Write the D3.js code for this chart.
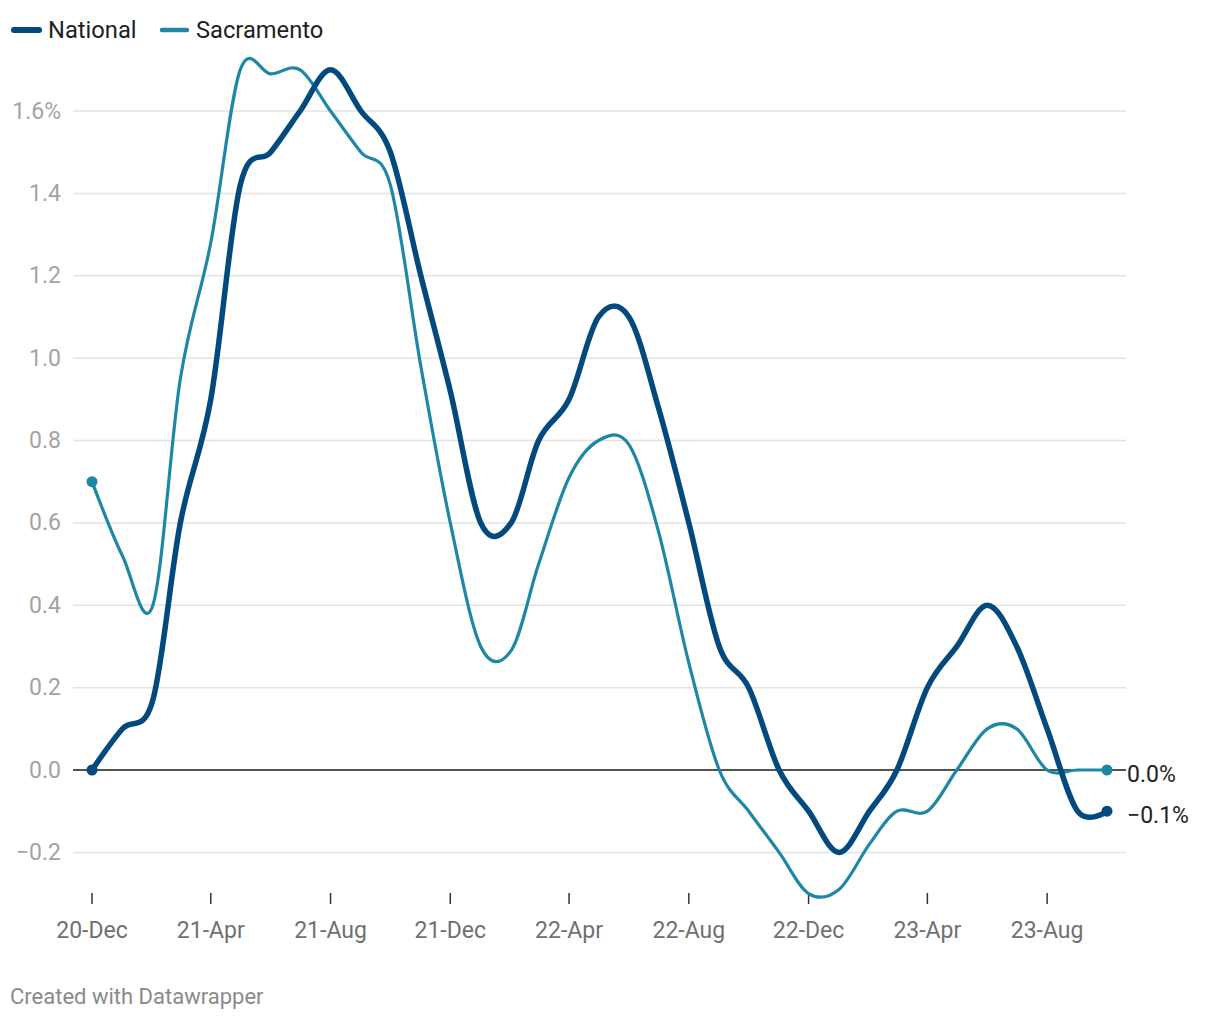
<!DOCTYPE html>
<html><head><meta charset="utf-8">
<script src="https://cdn.jsdelivr.net/npm/d3@7"></script>
<style>
html,body{margin:0;padding:0;background:#fff;}
svg{display:block;font-family:Roboto,"Noto Sans",sans-serif;}
</style></head>
<body>
<svg id="chart" width="1220" height="1020"></svg>
<script>
// ---- data ----
const months = ["2020-12","2021-01","2021-02","2021-03","2021-04","2021-05","2021-06","2021-07","2021-08","2021-09","2021-10","2021-11","2021-12",
"2022-01","2022-02","2022-03","2022-04","2022-05","2022-06","2022-07","2022-08","2022-09","2022-10","2022-11","2022-12",
"2023-01","2023-02","2023-03","2023-04","2023-05","2023-06","2023-07","2023-08","2023-09","2023-10"];
const national = [0.00,0.10,0.17,0.60,0.90,1.42,1.50,1.60,1.70,1.60,1.50,1.20,0.92,
0.60,0.60,0.80,0.90,1.10,1.10,0.88,0.60,0.30,0.20,0.00,-0.10,
-0.20,-0.10,0.00,0.20,0.30,0.40,0.30,0.10,-0.10,-0.10];
const sacramento = [0.70,0.52,0.40,0.95,1.28,1.70,1.69,1.70,1.60,1.50,1.42,0.98,0.60,
0.30,0.29,0.50,0.71,0.80,0.79,0.58,0.26,0.00,-0.10,-0.20,-0.30,
-0.29,-0.18,-0.10,-0.10,0.00,0.10,0.10,0.00,0.00,0.00];
const seriesNames = ["National","Sacramento"];
const seriesColors = ["#024a7e","#1f87a6"];
const endLabels = ["\u22120.1%","0.0%"];
const yTicks = [-0.2,0,0.2,0.4,0.6,0.8,1.0,1.2,1.4,1.6];
const xTickMonths = ["2020-12","2021-04","2021-08","2021-12","2022-04","2022-08","2022-12","2023-04","2023-08"];
const xTickLabels = ["20-Dec","21-Apr","21-Aug","21-Dec","22-Apr","22-Aug","22-Dec","23-Apr","23-Aug"];

// ---- setup ----
const parse = d3.utcParse("%Y-%m");
const dates = months.map(parse);
const svg = d3.select("#chart");

const x = d3.scaleUtc().domain([dates[0], dates[dates.length-1]]).range([92,1107]);
const y = d3.scaleLinear().domain([0,1.6]).range([770,111]);

// gridlines
const grid = svg.append("g");
yTicks.forEach(t=>{
  grid.append("line").attr("x1",73).attr("x2",1126)
    .attr("y1",y(t)).attr("y2",y(t))
    .attr("stroke", t===0 ? "#1a1a1a" : "#e3e3e3")
    .attr("stroke-width", t===0 ? 1.6 : 1.5);
});
// y labels
const fmtY = t => {
  let s = Math.abs(t).toFixed(1);
  if (t < 0) s = "\u2212" + s;
  if (t === 1.6) s += "%";
  return s;
};
svg.append("g").selectAll("text").data(yTicks).join("text")
  .attr("x",61).attr("y",d=>y(d)+7.5)
  .attr("text-anchor","end").attr("font-size",23).attr("fill","#a3a3a3")
  .text(fmtY);

// x axis ticks
const xt = svg.append("g");
xTickMonths.forEach((m,i)=>{
  const xx = x(parse(m));
  xt.append("line").attr("x1",xx).attr("x2",xx).attr("y1",893).attr("y2",904)
    .attr("stroke","#333").attr("stroke-width",1.5);
  xt.append("text").attr("x",xx).attr("y",938).attr("text-anchor","middle")
    .attr("font-size",23).attr("fill","#707070").text(xTickLabels[i]);
});

// lines
const line = d3.line().curve(d3.curveCardinal.tension(0))
  .x((d,i)=>x(dates[i])).y(d=>y(d));
const allSeries = [national, sacramento];
const widths = [5.5, 3.2];
[1,0].forEach(k=>{
  svg.append("path").datum(allSeries[k]).attr("d",line)
    .attr("fill","none").attr("stroke",seriesColors[k])
    .attr("stroke-width",widths[k]).attr("stroke-linejoin","round").attr("stroke-linecap","round");
});
// endpoint dots
[1,0].forEach(k=>{
  const s = allSeries[k];
  [0, s.length-1].forEach(i=>{
    svg.append("circle").attr("cx",x(dates[i])).attr("cy",y(s[i])).attr("r",5.5)
      .attr("fill",seriesColors[k]);
  });
});
// end labels
[0,1].forEach(k=>{
  const s = allSeries[k];
  svg.append("text").attr("x",1127).attr("y",y(s[s.length-1])+11.5)
    .attr("font-size",23).attr("fill","#222").text(endLabels[k]);
});

// legend
const legX = [12,160], legTX = [48,196], legW=[6,4.5];
seriesNames.forEach((n,k)=>{
  svg.append("line").attr("x1",legX[k]+2).attr("x2",legX[k]+27).attr("y1",30).attr("y2",30)
    .attr("stroke",seriesColors[k]).attr("stroke-width",legW[k]).attr("stroke-linecap","round");
  svg.append("text").attr("x",legTX[k]).attr("y",38).attr("font-size",23.7).attr("fill","#1e1e1e").text(n);
});

// footer
svg.append("text").attr("x",10).attr("y",1004).attr("font-size",22).attr("fill","#8a8a8a")
  .text("Created with Datawrapper");
</script>
</body></html>
